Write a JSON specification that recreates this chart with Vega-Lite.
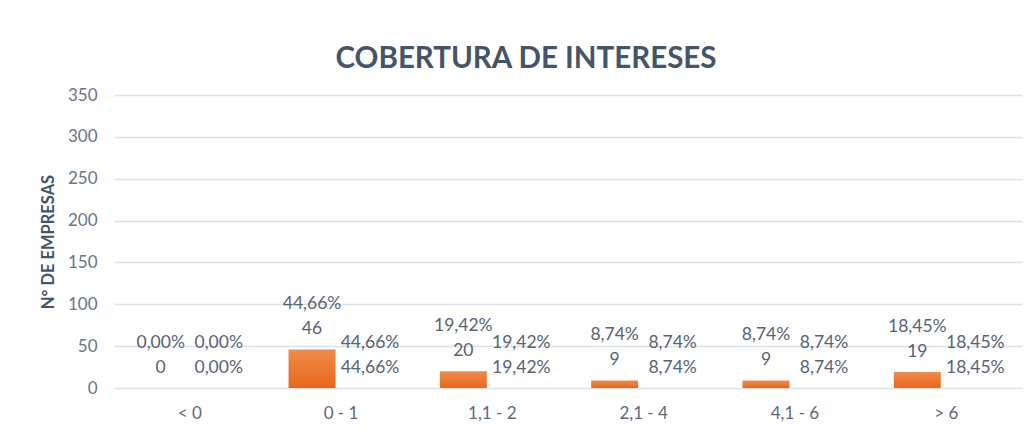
{
  "$schema": "https://vega.github.io/schema/vega-lite/v6.json",
  "width": 908,
  "height": 293,
  "autosize": {"type": "none"},
  "padding": {"left": 114, "top": 95, "right": 10, "bottom": 46},
  "background": "#FFFFFF",
  "config": {
    "locale": {"number": {"decimal": ",", "thousands": ".", "grouping": [3], "currency": ["", " €"]}},
    "view": {"stroke": null},
    "font": "Lato",
    "text": {"font": "Lato"}
  },
  "title": {
    "text": "COBERTURA DE INTERESES",
    "font": "Lato",
    "fontSize": 29.5,
    "fontWeight": "bold",
    "color": "#44546A",
    "anchor": "middle",
    "frame": "group",
    "baseline": "alphabetic",
    "offset": 27,
    "dx": -42,
    "dy": 38
  },
  "data": {
    "values": [
      {"rango": "< 0", "empresas": 0, "share": 0},
      {"rango": "0 - 1", "empresas": 46, "share": 0.4466},
      {"rango": "1,1 - 2", "empresas": 20, "share": 0.1942},
      {"rango": "2,1 - 4", "empresas": 9, "share": 0.0874},
      {"rango": "4,1 - 6", "empresas": 9, "share": 0.0874},
      {"rango": "> 6", "empresas": 19, "share": 0.1845}
    ]
  },
  "encoding": {
    "x": {
      "field": "rango",
      "type": "nominal",
      "sort": null,
      "scale": {"paddingInner": 0.2335, "paddingOuter": 0.117},
      "axis": {
        "title": null,
        "labelAngle": 0,
        "labelFont": "Lato",
        "labelFontSize": 17,
        "labelColor": "#5F6878",
        "labelPadding": 17,
        "ticks": false,
        "domain": false,
        "grid": false
      }
    }
  },
  "layer": [
    {
      "mark": {
        "type": "bar",
        "fill": {
          "x1": 0, "y1": 0, "x2": 0, "y2": 1,
          "gradient": "linear",
          "stops": [
            {"offset": 0, "color": "#F28A4A"},
            {"offset": 1, "color": "#E5681C"}
          ]
        }
      },
      "encoding": {
        "xOffset": {
          "datum": "cantidad",
          "scale": {"domain": ["cantidad", "porcentaje"], "paddingInner": 0.19, "paddingOuter": 0.095}
        },
        "y": {
          "field": "empresas",
          "type": "quantitative",
          "scale": {"domain": [0, 350]},
          "axis": {
            "title": "N° DE EMPRESAS",
            "titleFont": "Lato",
            "titleFontSize": 16.5,
            "titleFontWeight": "bold",
            "titleColor": "#44546A",
            "titleX": -66,
            "titleBaseline": "middle",
            "values": [0, 50, 100, 150, 200, 250, 300, 350],
            "labelFont": "Lato",
            "labelFontSize": 17,
            "labelColor": "#6B7385",
            "labelPadding": 17,
            "ticks": false,
            "domain": false,
            "grid": true,
            "gridColor": "#DCE0E8",
            "gridWidth": 1.5
          }
        }
      }
    },
    {
      "mark": {"type": "text", "baseline": "middle", "align": "center", "dy": -20, "fontSize": 17.5, "color": "#576275"},
      "encoding": {
        "xOffset": {"datum": "cantidad"},
        "y": {"field": "empresas", "type": "quantitative"},
        "text": {"field": "empresas", "type": "quantitative", "format": "d"}
      }
    },
    {
      "mark": {"type": "text", "baseline": "middle", "align": "center", "dy": -45, "fontSize": 17.5, "color": "#576275"},
      "encoding": {
        "xOffset": {"datum": "cantidad"},
        "y": {"field": "empresas", "type": "quantitative"},
        "text": {"field": "share", "type": "quantitative", "format": ".2%"}
      }
    },
    {
      "mark": {"type": "text", "baseline": "middle", "align": "center", "dy": -20, "fontSize": 17.5, "color": "#576275"},
      "encoding": {
        "xOffset": {"datum": "porcentaje"},
        "y": {"field": "share", "type": "quantitative"},
        "text": {"field": "share", "type": "quantitative", "format": ".2%"}
      }
    },
    {
      "mark": {"type": "text", "baseline": "middle", "align": "center", "dy": -45, "fontSize": 17.5, "color": "#576275"},
      "encoding": {
        "xOffset": {"datum": "porcentaje"},
        "y": {"field": "share", "type": "quantitative"},
        "text": {"field": "share", "type": "quantitative", "format": ".2%"}
      }
    }
  ]
}
